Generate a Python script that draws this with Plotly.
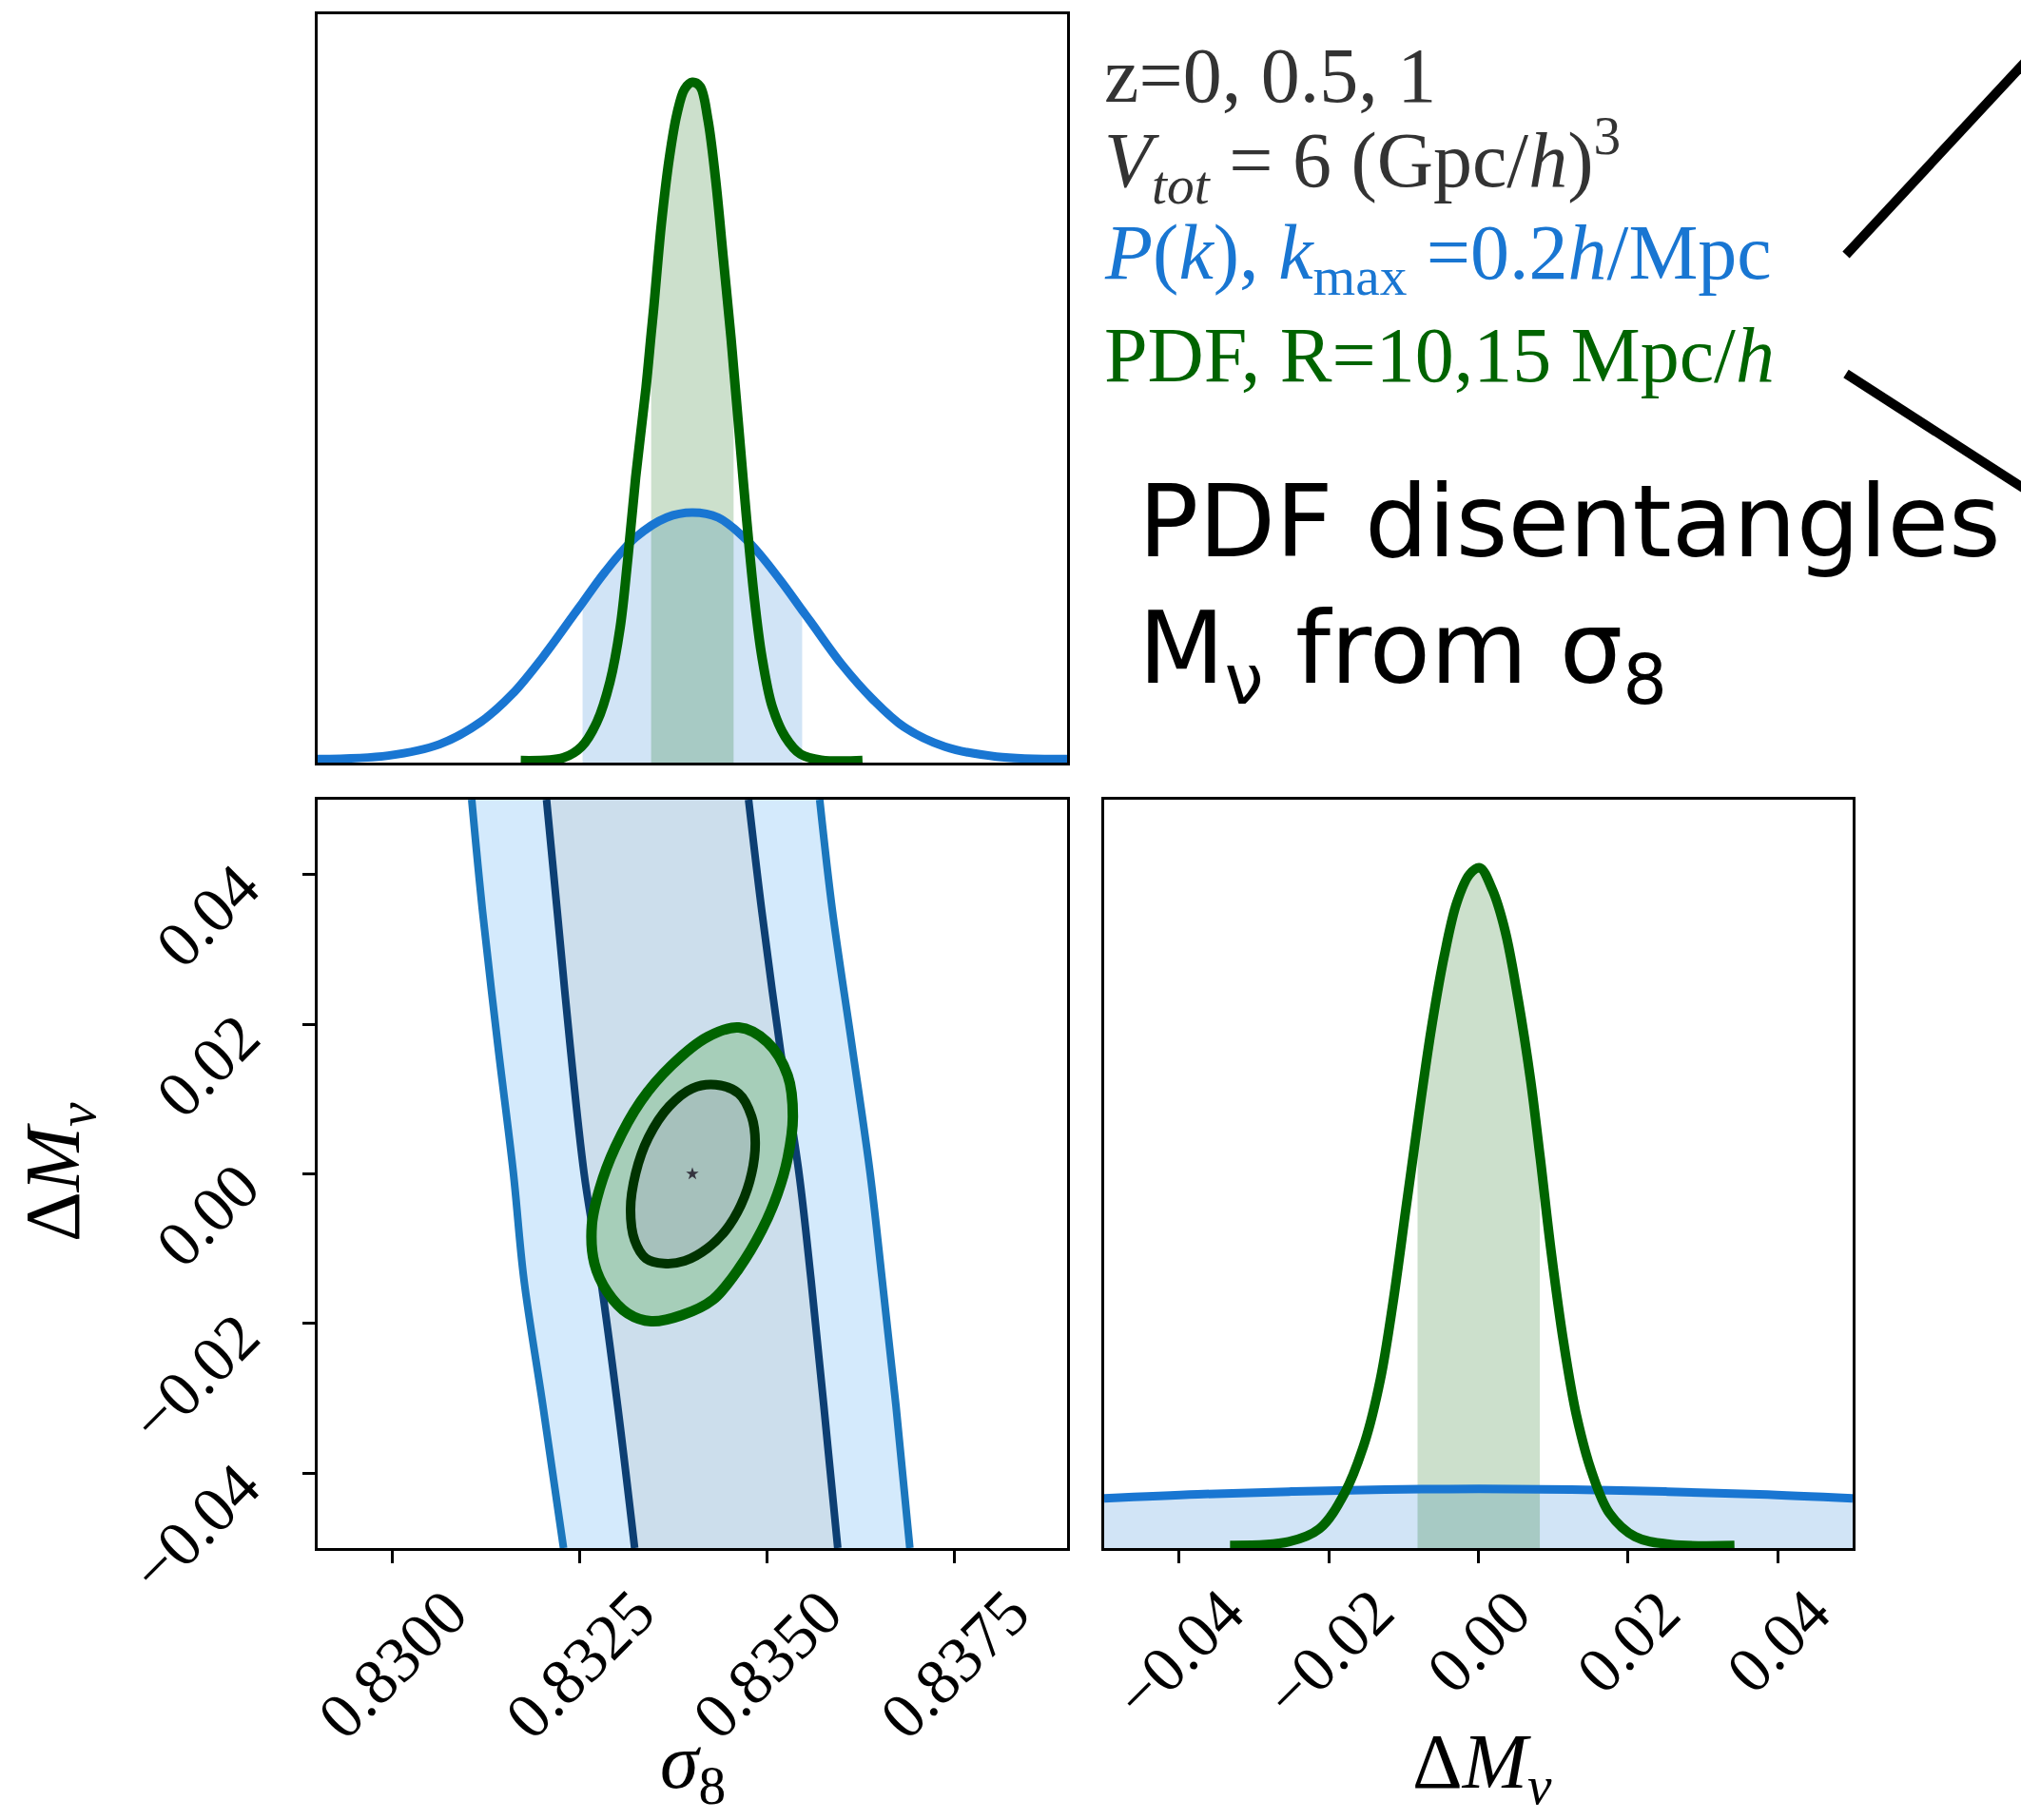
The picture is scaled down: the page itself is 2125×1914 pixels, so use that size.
import plotly.graph_objects as go

W, H = 2125, 1914

# ---------------- data ----------------
sigma8_tick_vals = [0.8300, 0.8325, 0.8350, 0.8375]
sigma8_tick_text = ["0.8300", "0.8325", "0.8350", "0.8375"]
dmnu_tick_vals = [-0.04, -0.02, 0.00, 0.02, 0.04]
dmnu_tick_text = ["\u22120.04", "\u22120.02", "0.00", "0.02", "0.04"]

fiducial_sigma8 = [0.834]
fiducial_dmnu = [0.0]

# 1D marginal of sigma8 (top-left), peak of PDF normalised to 1
pk_s8_x = [0.829000, 0.829942, 0.830630, 0.831180, 0.831593, 0.832006, 0.832418, 0.832535,
           0.832831, 0.833243, 0.833656, 0.834000, 0.834344, 0.834757, 0.835169, 0.835465,
           0.835582, 0.835994, 0.836407, 0.836820, 0.837370, 0.838058, 0.839000]
pk_s8_y = [0.0051, 0.0103, 0.0271, 0.0601, 0.1003, 0.1553, 0.2175, 0.235,
           0.2798, 0.3310, 0.3603, 0.3676, 0.3603, 0.3237, 0.2688, 0.224,
           0.2065, 0.1443, 0.0930, 0.0527, 0.0234, 0.0088, 0.0051]
pk_s8_band = [0.832535, 0.835465]

pdf_s8_x = [0.831710, 0.832281, 0.832521, 0.832728, 0.832900, 0.833037, 0.833140, 0.833243,
            0.833381, 0.833450, 0.833484, 0.833587, 0.833691, 0.833794, 0.833897, 0.834000,
            0.834103, 0.834206, 0.834309, 0.834413, 0.834516, 0.834550, 0.834619, 0.834722,
            0.834825, 0.834928, 0.835066, 0.835238, 0.835444, 0.835719, 0.836270]
pdf_s8_y = [0.003, 0.0073, 0.0234, 0.0601, 0.1186, 0.1992, 0.3017, 0.4189,
            0.5507, 0.63, 0.6679, 0.7924, 0.8876, 0.9535, 0.9901, 1.0,
            0.9938, 0.9462, 0.8583, 0.7411, 0.6239, 0.58, 0.4921, 0.3603,
            0.2431, 0.1553, 0.0820, 0.0381, 0.0124, 0.0037, 0.003]
pdf_s8_band = [0.83345, 0.83455]

# 1D marginal of Delta M_nu (bottom-right)
pk_mnu_x = [-0.05, -0.0375, -0.025, -0.0125, 0.0, 0.0125, 0.025, 0.0375, 0.05]
pk_mnu_y = [0.073, 0.079, 0.083, 0.086, 0.087, 0.086, 0.083, 0.079, 0.073]

pdf_mnu_x = [-0.033186, -0.025357, -0.021273, -0.017869, -0.015146, -0.013104, -0.011402,
             -0.009700, -0.008135, -0.007999, -0.006297, -0.004595, -0.002893, -0.001191,
             0.000170, 0.001872, 0.003574, 0.005276, 0.006978, 0.008203, 0.008339, 0.009700,
             0.011402, 0.013104, 0.015146, 0.017529, 0.020933, 0.025698, 0.034207]
pdf_mnu_y = [0.0038, 0.0091, 0.028, 0.081, 0.157, 0.2477, 0.3614,
             0.4977, 0.623, 0.6341, 0.7629, 0.8689, 0.9485, 0.9901,
             1.0, 0.9674, 0.9068, 0.8083, 0.6871, 0.578, 0.5659, 0.4371,
             0.3008, 0.1947, 0.1114, 0.0508, 0.0167, 0.0053, 0.0038]
pdf_mnu_band = [-0.008135, 0.008203]

# 2D P(k) contour edges (sigma8 value of each edge at given Delta M_nu)
pk_edge_dm = [0.050, 0.035, 0.017, 0.000, -0.014, -0.031, -0.050]
pk_2sig_left = [0.831056, 0.831201, 0.831407, 0.831613, 0.831751, 0.832006, 0.832281]
pk_1sig_left = [0.832054, 0.832198, 0.832370, 0.832556, 0.832776, 0.833003, 0.833230]
pk_1sig_right = [0.834750, 0.834928, 0.835169, 0.835424, 0.835582, 0.835754, 0.835940]
pk_2sig_right = [0.835699, 0.835871, 0.836132, 0.836373, 0.836531, 0.836717, 0.836902]

# 2D PDF contours
pdf_2sig_s8 = [0.834619, 0.834997, 0.835272, 0.835341, 0.835272, 0.835135, 0.834928, 0.834619,
               0.834275, 0.833862, 0.833450, 0.833140, 0.832865, 0.832693, 0.832659, 0.832762,
               0.832968, 0.833312, 0.833725, 0.834206]
pdf_2sig_dm = [0.01956, 0.01763, 0.01315, 0.00764, 0.00213, -0.00269, -0.00751, -0.01267,
               -0.01680, -0.01887, -0.01970, -0.01866, -0.01577, -0.01198, -0.00682, -0.00200,
               0.00351, 0.00971, 0.01453, 0.01832]
pdf_1sig_s8 = [0.834310, 0.834619, 0.834791, 0.834839, 0.834791, 0.834653, 0.834447, 0.834206,
               0.833897, 0.833622, 0.833381, 0.833230, 0.833175, 0.833243, 0.833415, 0.833690,
               0.834000]
pdf_1sig_dm = [0.01191, 0.01074, 0.00764, 0.00420, 0.00007, -0.00406, -0.00751, -0.00992,
               -0.01164, -0.01198, -0.01130, -0.00888, -0.00475, 0.00007, 0.00489, 0.00902,
               0.01143]

# ---------------- styling ----------------
BLUE = "#1976D2"
GREEN = "#006400"
BLUE_FILL = "rgba(25,118,210,0.2)"
GREEN_FILL = "rgba(0,100,0,0.2)"
PK2_FILL = "#D4EAFC"
PK1_FILL = "#CCDEEC"
PK2_LINE = "#1B77BD"
PK1_LINE = "#0D3F73"
PDF2_FILL = "#A6CEB9"
PDF1_FILL = "#A6C1BC"
PDF2_LINE = "#006400"
PDF1_LINE = "#003300"
SERIF = "Liberation Serif"
SANS = "DejaVu Sans"

X_LEFT = [334 / W, 1122 / W]
X_RIGHT = [1161 / W, 1948 / W]
Y_TOP = [1 - 802 / H, 1 - 15 / H]
Y_BOT = [1 - 1628 / H, 1 - 841 / H]

fig = go.Figure()


def in_band(xs, ys, band):
    px = [x for x in xs if band[0] <= x <= band[1]]
    py = [y for x, y in zip(xs, ys) if band[0] <= x <= band[1]]
    return px, py


def closed(a):
    return list(a) + [a[0]]


# ---- top-left: sigma8 marginal ----
bx, by = in_band(pk_s8_x, pk_s8_y, pk_s8_band)
fig.add_trace(go.Scatter(x=bx, y=by, xaxis="x", yaxis="y", mode="lines", line=dict(width=0),
                         fill="tozeroy", fillcolor=BLUE_FILL, hoverinfo="skip"))
gx, gy = in_band(pdf_s8_x, pdf_s8_y, pdf_s8_band)
fig.add_trace(go.Scatter(x=gx, y=gy, xaxis="x", yaxis="y", mode="lines", line=dict(width=0),
                         fill="tozeroy", fillcolor=GREEN_FILL, hoverinfo="skip"))
fig.add_trace(go.Scatter(x=pk_s8_x, y=pk_s8_y, xaxis="x", yaxis="y", mode="lines",
                         line=dict(color=BLUE, width=9, shape="spline")))
fig.add_trace(go.Scatter(x=pdf_s8_x, y=pdf_s8_y, xaxis="x", yaxis="y", mode="lines",
                         line=dict(color=GREEN, width=10, shape="spline")))

# ---- bottom-left: 2D contours ----
pk2_x = pk_2sig_left + pk_2sig_right[::-1]
pk2_y = pk_edge_dm + pk_edge_dm[::-1]
pk1_x = pk_1sig_left + pk_1sig_right[::-1]
pk1_y = pk_edge_dm + pk_edge_dm[::-1]
fig.add_trace(go.Scatter(x=closed(pk2_x), y=closed(pk2_y), xaxis="x2", yaxis="y2", mode="lines",
                         line=dict(width=0), fill="toself", fillcolor=PK2_FILL))
fig.add_trace(go.Scatter(x=closed(pk1_x), y=closed(pk1_y), xaxis="x2", yaxis="y2", mode="lines",
                         line=dict(width=0), fill="toself", fillcolor=PK1_FILL))
for edge, col in [(pk_2sig_left, PK2_LINE), (pk_2sig_right, PK2_LINE),
                  (pk_1sig_left, PK1_LINE), (pk_1sig_right, PK1_LINE)]:
    fig.add_trace(go.Scatter(x=edge, y=pk_edge_dm, xaxis="x2", yaxis="y2", mode="lines",
                             line=dict(color=col, width=8, shape="spline")))

fig.add_trace(go.Scatter(x=closed(pdf_2sig_s8), y=closed(pdf_2sig_dm), xaxis="x2", yaxis="y2",
                         mode="lines", line=dict(color=PDF2_LINE, width=11, shape="spline"),
                         fill="toself", fillcolor=PDF2_FILL))
fig.add_trace(go.Scatter(x=closed(pdf_1sig_s8), y=closed(pdf_1sig_dm), xaxis="x2", yaxis="y2",
                         mode="lines", line=dict(color=PDF1_LINE, width=10, shape="spline"),
                         fill="toself", fillcolor=PDF1_FILL))
fig.add_trace(go.Scatter(x=fiducial_sigma8, y=fiducial_dmnu, xaxis="x2", yaxis="y2", mode="markers",
                         marker=dict(symbol="star", size=10, color="#35343f")))

# ---- bottom-right: Delta M_nu marginal ----
fig.add_trace(go.Scatter(x=pk_mnu_x, y=pk_mnu_y, xaxis="x3", yaxis="y3", mode="lines",
                         line=dict(width=0, shape="spline"), fill="tozeroy", fillcolor=BLUE_FILL,
                         hoverinfo="skip"))
gx, gy = in_band(pdf_mnu_x, pdf_mnu_y, pdf_mnu_band)
fig.add_trace(go.Scatter(x=gx, y=gy, xaxis="x3", yaxis="y3", mode="lines", line=dict(width=0),
                         fill="tozeroy", fillcolor=GREEN_FILL, hoverinfo="skip"))
fig.add_trace(go.Scatter(x=pk_mnu_x, y=pk_mnu_y, xaxis="x3", yaxis="y3", mode="lines",
                         line=dict(color=BLUE, width=9, shape="spline")))
fig.add_trace(go.Scatter(x=pdf_mnu_x, y=pdf_mnu_y, xaxis="x3", yaxis="y3", mode="lines",
                         line=dict(color=GREEN, width=10, shape="spline")))

frame = dict(showline=True, linecolor="black", linewidth=3, mirror=True, showgrid=False,
             zeroline=False, showticklabels=False)
ticked = dict(ticks="outside", ticklen=13, tickwidth=2.5, tickcolor="black")

fig.update_layout(
    width=W, height=H, margin=dict(l=0, r=0, t=0, b=0),
    paper_bgcolor="white", plot_bgcolor="white", showlegend=False,
    xaxis=dict(domain=X_LEFT, range=[0.829, 0.839], anchor="y", ticks="", **frame),
    yaxis=dict(domain=Y_TOP, range=[0, 1.1], anchor="x", ticks="", **frame),
    xaxis2=dict(domain=X_LEFT, range=[0.829, 0.839], anchor="y2", tickvals=sigma8_tick_vals,
                **ticked, **frame),
    yaxis2=dict(domain=Y_BOT, range=[-0.05, 0.05], anchor="x2", tickvals=dmnu_tick_vals,
                **ticked, **frame),
    xaxis3=dict(domain=X_RIGHT, range=[-0.05, 0.05], anchor="y3", tickvals=dmnu_tick_vals,
                **ticked, **frame),
    yaxis3=dict(domain=Y_BOT, range=[0, 1.1], anchor="x3", ticks="", **frame),
)

ann = []
TICK_FONT = dict(family=SERIF, size=68, color="black")
for v, t in zip(sigma8_tick_vals, sigma8_tick_text):
    ann.append(dict(x=v, xref="x2", y=1 - 1654 / H, yref="paper", text=t, textangle=-45,
                    xanchor="center", yanchor="top", showarrow=False, font=TICK_FONT))
for v, t in zip(dmnu_tick_vals, dmnu_tick_text):
    ann.append(dict(x=v, xref="x3", y=1 - 1654 / H, yref="paper", text=t, textangle=-45,
                    xanchor="center", yanchor="top", showarrow=False, font=TICK_FONT))
    ann.append(dict(x=290 / W, xref="paper", y=v, yref="y2", yshift=28, text=t, textangle=-45,
                    xanchor="right", yanchor="top", showarrow=False, font=TICK_FONT))

TITLE_FONT = dict(family=SERIF, size=82, color="black")
ann.append(dict(x=728 / W, xref="paper", y=1 - 1858 / H, yref="paper", xanchor="center",
                yanchor="middle", text="<i>σ</i><sub>8</sub>", showarrow=False, font=TITLE_FONT))
ann.append(dict(x=1558 / W, xref="paper", y=1 - 1858 / H, yref="paper", xanchor="center",
                yanchor="middle", text="Δ<i>M</i><sub><i>ν</i></sub>", showarrow=False,
                font=TITLE_FONT))
ann.append(dict(x=61 / W, xref="paper", y=1 - 1233 / H, yref="paper", textangle=-90,
                xanchor="center", yanchor="middle",
                text="Δ<i>M</i><sub><i>ν</i></sub>", showarrow=False, font=TITLE_FONT))

info_lines = [
    ("z=0, 0.5, 1", "#333333", 80),
    ("<i>V</i><sub><i>tot</i></sub> = 6 (Gpc/<i>h</i>)<sup>3</sup>", "#333333", 168),
    ("<i>P</i>(<i>k</i>), <i>k</i><sub>max</sub> =0.2<i>h</i>/Mpc", BLUE, 271),
    ("PDF, R=10,15 Mpc/<i>h</i>", GREEN, 374),
]
for txt, col, yc in info_lines:
    ann.append(dict(x=1159 / W, xref="paper", y=1 - yc / H, yref="paper", text=txt,
                    xanchor="left", yanchor="middle", showarrow=False,
                    font=dict(family=SERIF, size=82, color=col)))

for txt, yc in [("PDF disentangles", 549), ("M<sub>ν</sub> from σ<sub>8</sub>", 689)]:
    ann.append(dict(x=1195 / W, xref="paper", y=1 - yc / H, yref="paper", text=txt,
                    xanchor="left", yanchor="middle", showarrow=False,
                    font=dict(family=SANS, size=105, color="black")))

fig.update_layout(annotations=ann)

# decorative pointer lines at the right edge (pixel coordinates)
decor_lines = [((1941, 268), (2200, -11)), ((1941, 393), (2200, 560))]
for (x0, y0), (x1, y1) in decor_lines:
    fig.add_shape(type="line", xref="paper", yref="paper", x0=x0 / W, y0=1 - y0 / H,
                  x1=x1 / W, y1=1 - y1 / H, line=dict(color="black", width=10))

fig.write_html("out.html")
